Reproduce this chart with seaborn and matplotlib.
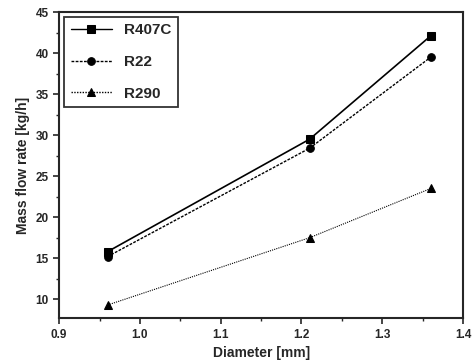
import matplotlib
matplotlib.use("Agg")
import matplotlib.pyplot as plt
import pandas as pd
import seaborn as sns
from matplotlib.ticker import MultipleLocator

diameter = [0.96, 1.21, 1.36]
r407c = [15.8, 29.5, 42.1]
r22 = [15.2, 28.4, 39.5]
r290 = [9.3, 17.5, 23.5]
refrigerants = ["R407C", "R22", "R290"]

df = pd.DataFrame({
    "Diameter": diameter * 3,
    "Mass": r407c + r22 + r290,
    "Refrigerant": [r for r in refrigerants for _ in diameter],
})

sns.set_style("ticks")
plt.rcParams['font.family'] = ['Liberation Sans', 'DejaVu Sans']

fig = plt.figure(figsize=(4.73, 3.64), dpi=100)
ax = fig.add_axes([0.125, 0.126, 0.854, 0.841])

sns.lineplot(data=df, x="Diameter", y="Mass", hue="Refrigerant", style="Refrigerant",
             palette=["black"] * 3, dashes=[(None, None), (2, 1), (1, 1)],
             markers=["s", "o", "^"], markersize=5.5, markeredgecolor="black",
             linewidth=1.0, ax=ax)
for line, lw in zip(ax.get_lines(), [1.2, 1.0, 0.8]):
    line.set_linewidth(lw)

ax.set_xlim(0.9, 1.4)
ax.set_ylim(7.7, 45)
ax.xaxis.set_major_locator(MultipleLocator(0.1))
ax.xaxis.set_minor_locator(MultipleLocator(0.05))
ax.yaxis.set_major_locator(MultipleLocator(5))
ax.yaxis.set_minor_locator(MultipleLocator(2.5))
ax.set_yticks([10, 15, 20, 25, 30, 35, 40, 45])
ax.tick_params(which="major", length=4, width=1.2, labelsize=8.5)
ax.tick_params(which="minor", length=2, width=1)
for lab in ax.get_xticklabels() + ax.get_yticklabels():
    lab.set_fontweight("bold")
for s in ax.spines.values():
    s.set_linewidth(1.5)
    s.set_visible(True)

ax.set_xlabel("Diameter [mm]", fontsize=10, fontweight="bold")
ax.set_ylabel("Mass flow rate [kg/h]", fontsize=10, fontweight="bold")

leg = ax.legend(loc="upper left", prop={"weight": "bold", "size": 11},
                frameon=True, fancybox=False, edgecolor="black", handlelength=2.7,
                labelspacing=1.15, borderaxespad=0.35)
leg.get_frame().set_linewidth(1.3)

fig.savefig("out.png", dpi=100)
